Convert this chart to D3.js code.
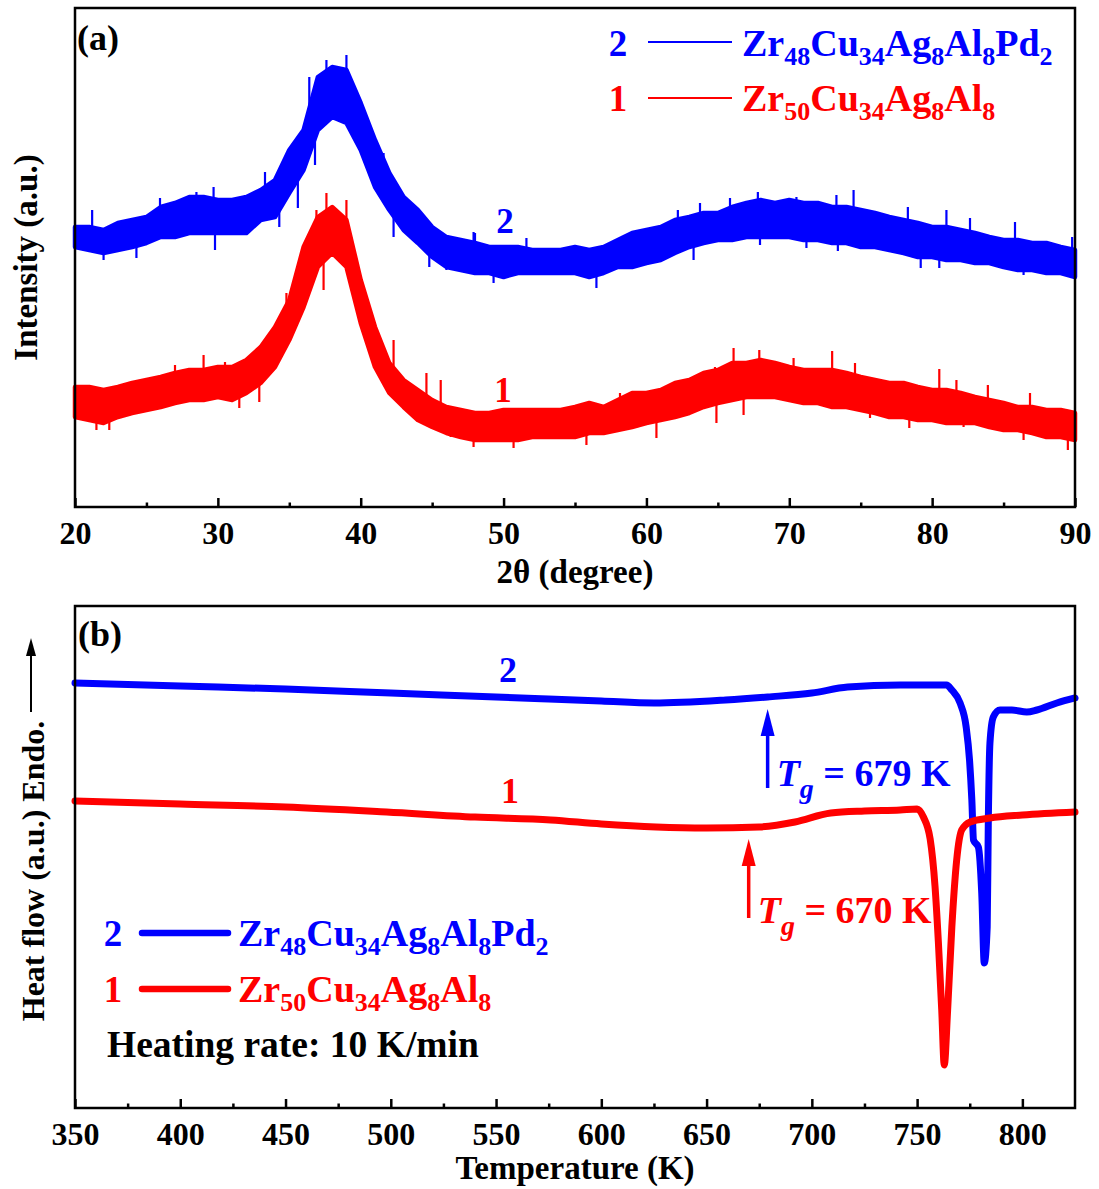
<!DOCTYPE html>
<html>
<head>
<meta charset="utf-8">
<script src="https://cdn.jsdelivr.net/npm/d3@7"></script>
<style>
  body { margin: 0; background: #fff; }
  svg { display: block; }
  text { font-family: "Liberation Serif", "Times New Roman", serif; font-weight: bold; }
</style>
</head>
<body>
<svg id="fig" width="1099" height="1189"></svg>
<script>
// ---------- (a) XRD patterns: noise band (upper / lower edge) per degree ----------
const xrdAngle = [20,21,22,23,24,25,26,27,28,29,30,31,32,33,34,35,36,37,38,39,40,41,42,43,44,45,46,47,48,49,50,51,52,53,54,55,56,57,58,59,60,61,62,63,64,65,66,67,68,69,70,71,72,73,74,75,76,77,78,79,80,81,82,83,84,85,86,87,88,89,90];

const xrd2Hi = [56.0,56.0,55.4,56.8,57.4,58.0,60.0,60.8,62.0,62.0,61.4,61.4,62.0,63.4,65.4,71.4,75.4,86.0,88.0,87.4,80.8,73.4,66.8,62.0,59.4,56.0,54.0,53.4,52.8,52.0,52.0,52.0,51.4,51.4,51.4,52.0,51.4,52.0,53.4,54.8,55.4,56.0,57.4,58.0,58.8,58.8,60.0,60.8,61.4,60.8,61.4,60.8,60.8,60.0,60.0,59.4,58.8,58.0,57.4,56.8,56.0,56.0,55.4,54.8,54.0,53.4,53.4,52.8,52.8,52.0,51.4];
const xrd2Lo = [52.0,51.4,50.8,51.4,52.0,52.8,54.0,54.0,54.8,54.8,54.8,54.8,54.8,57.4,58.0,62.8,67.4,75.4,78.0,76.8,71.4,64.0,59.4,55.4,52.8,50.0,48.0,47.4,46.8,46.8,46.0,46.8,46.8,46.8,46.8,46.8,46.0,46.8,48.0,48.0,48.8,49.4,50.8,52.0,52.8,53.4,53.4,54.0,54.0,54.0,54.0,53.4,53.4,52.8,52.8,52.0,52.0,51.4,50.8,50.0,50.0,49.4,49.4,48.8,48.8,48.0,47.4,47.4,46.8,46.8,46.0];

const xrd1Hi = [24.0,24.0,23.4,24.0,24.8,25.4,26.0,26.8,27.4,27.4,28.0,28.0,29.4,32.0,36.0,41.4,52.0,58.0,60.0,57.4,45.4,36.0,28.8,25.4,23.4,21.4,20.0,19.4,18.8,18.8,19.4,19.4,19.4,19.4,19.4,20.0,20.8,20.0,21.4,22.8,22.8,23.4,24.8,25.4,26.8,27.4,28.8,28.8,29.4,28.8,28.0,27.4,27.4,27.4,26.8,26.0,25.4,24.8,24.8,24.0,23.4,23.4,22.8,22.0,21.4,20.8,20.0,20.0,19.4,19.4,18.8];
const xrd1Lo = [18.0,17.4,16.8,18.0,18.8,19.4,20.0,20.8,21.4,21.4,22.0,21.4,22.8,24.8,28.0,33.4,40.0,48.0,50.8,48.0,36.8,28.0,22.8,20.0,17.4,16.0,14.8,14.0,13.4,13.4,13.4,13.4,14.0,14.0,14.0,14.0,14.8,14.8,15.4,16.0,16.8,17.4,18.0,18.8,20.0,20.8,21.4,22.0,22.0,22.0,21.4,20.8,20.8,20.0,20.0,19.4,18.8,18.0,18.0,17.4,17.4,16.8,16.8,16.8,16.0,15.4,15.4,14.8,14.0,14.0,13.4];

// isolated counts standing out of the band: [2θ, intensity]
const xrd2Spikes = [[21.2,59.4],[22.0,49.4],[24.3,49.8],[25.95,61.8],[28.5,63.0],[29.7,64.0],[29.8,51.4],[31.9,62.4],[33.3,67.0],[34.3,56.0],[35.6,59.8],[36.4,86.0],[36.8,68.4],[37.6,89.4],[39.0,90.4],[40.9,70.8],[41.6,70.8],[42.3,54.0],[44.8,48.0],[46.0,47.4],[47.9,55.0],[48.0,54.8],[49.3,44.8],[51.6,53.8],[56.5,43.8],[62.2,59.4],[63.3,49.4],[63.75,60.8],[65.85,61.8],[67.8,63.0],[67.95,52.4],[70.5,62.0],[71.2,51.8],[73.3,62.4],[73.4,51.2],[74.5,63.4],[76.35,51.4],[78.3,60.0],[79.2,47.8],[80.5,47.8],[81.0,59.4],[82.65,57.8],[85.8,57.0],[86.4,46.4],[89.8,54.0]];
const xrd1Spikes = [[20.35,17.4],[21.5,15.4],[22.4,15.4],[27.0,28.4],[29.0,30.4],[30.5,29.0],[31.5,19.8],[32.5,30.0],[32.9,21.0],[33.9,33.4],[34.8,42.8],[36.9,59.4],[37.4,43.4],[37.6,62.8],[39.0,61.4],[41.0,29.0],[42.3,33.4],[42.75,21.0],[44.6,26.8],[45.6,25.4],[46.3,14.0],[47.9,12.0],[50.7,11.8],[55.8,12.4],[58.15,22.8],[60.7,13.8],[64.8,28.0],[64.9,16.8],[66.1,31.8],[66.8,18.4],[67.9,31.4],[70.3,29.8],[73.0,31.2],[74.6,28.8],[75.65,17.8],[77.3,18.0],[78.4,15.8],[80.5,27.6],[81.7,25.4],[82.2,16.0],[83.9,24.4],[86.4,13.4],[86.85,22.8],[89.5,11.4]];

const xrdTicks = [20,30,40,50,60,70,80,90];

// ---------- (b) DSC traces ----------
const dsc2T    = [350,400,450,500,550,575,600,625,659,679,700,717,742,758,764,766.5,770.4,773.3,774.9,776,776.8,779.1,780.7,781.9,783.3,783.8,784.6,786.2,789.4,795,802.1,806.9,816.4,825];
const dsc2Flow = [42.33,42.03,41.73,41.33,40.94,40.74,40.54,40.34,40.64,40.94,41.33,41.93,42.13,42.13,42.13,41.63,40.34,37.95,34.66,30.68,26.69,25.99,21.41,14.44,18.03,28.09,36.35,38.94,39.64,39.64,39.44,39.64,40.34,40.84];

const dsc1T    = [350,400,450,498,540,576,600,626,650,675,692,709,725,742,750,753,756.2,758.5,760.1,761.7,762.9,764.5,766.5,768.8,771.2,775.2,784.6,800,825];
const dsc1Flow = [30.58,30.28,29.98,29.48,28.98,28.69,28.29,27.99,27.89,27.99,28.49,29.38,29.58,29.68,29.78,28.98,26.79,22.11,16.53,9.76,4.28,9.76,18.03,24.70,27.69,28.49,28.88,29.18,29.48];

const dscTicks = [350,400,450,500,550,600,650,700,750,800];

// glass transition temperatures (sample 2, sample 1)
const tgSample = ["2", "1"];
const tgKelvin = [679, 670];

// ---------- drawing ----------
const BLUE = "#0000ff", RED = "#ff0000";
const svg = d3.select("#fig");

const A = { l: 75, r: 1075, t: 8, b: 507 };
const B = { l: 75, r: 1075, t: 606, b: 1108 };

const xA = d3.scaleLinear().domain([20, 90]).range([A.l, A.r]);
const yA = d3.scaleLinear().domain([0, 99.8]).range([A.b, A.t]);
const xB = d3.scaleLinear().domain([350, 825]).range([B.l, B.r]);
const yB = d3.scaleLinear().domain([0, 50]).range([B.b, B.t]);

function frame(P) {
  svg.append("rect").attr("x", P.l).attr("y", P.t)
    .attr("width", P.r - P.l).attr("height", P.b - P.t)
    .attr("fill", "none").attr("stroke", "#000").attr("stroke-width", 2.5);
}

function bottomAxis(P, x, ticks, minorStep) {
  const minor = ticks.map(t => t + minorStep).filter(m => m < x.domain()[1]);
  const g = svg.append("g").attr("transform", `translate(0,${P.b})`);
  g.call(d3.axisBottom(x).tickValues(minor).tickSize(-4.5).tickFormat(""))
    .call(s => s.select(".domain").remove())
    .selectAll("line").attr("stroke", "#000").attr("stroke-width", 2.5);
  const gm = svg.append("g").attr("transform", `translate(0,${P.b})`);
  gm.call(d3.axisBottom(x).tickValues(ticks).tickSize(-9).tickPadding(14).tickFormat(d3.format("d")))
    .call(s => s.select(".domain").remove());
  gm.selectAll("line").attr("stroke", "#000").attr("stroke-width", 2.5);
  gm.selectAll("text").attr("fill", "#000")
    .style("font-family", '"Liberation Serif","Times New Roman",serif')
    .style("font-weight", "bold").style("font-size", "32px");
}

// subscripted chemical formula
function formula(x, y, parts, color, size, subSize, shift) {
  const t = svg.append("text").attr("x", x).attr("y", y).attr("fill", color)
    .style("font-size", size + "px");
  let off = 0;
  parts.forEach(p => {
    const sub = typeof p !== "string";
    const target = sub ? shift : 0;
    t.append("tspan").attr("dy", target - off)
      .style("font-size", (sub ? subSize : size) + "px")
      .text(sub ? p.s : p);
    off = target;
  });
  return t;
}
const F2 = ["Zr", {s: "48"}, "Cu", {s: "34"}, "Ag", {s: "8"}, "Al", {s: "8"}, "Pd", {s: "2"}];
const F1 = ["Zr", {s: "50"}, "Cu", {s: "34"}, "Ag", {s: "8"}, "Al", {s: "8"}];

// ---- panel (a)
const plotA = svg.append("g");
function xrdBand(hi, lo, spikes, color) {
  const rows = xrdAngle.map((d, i) => ({ a: d, hi: hi[i], lo: lo[i] }));
  const area = d3.area().x(d => xA(d.a)).y0(d => yA(d.lo)).y1(d => yA(d.hi));
  plotA.append("path").datum(rows).attr("d", area)
    .attr("fill", color).attr("stroke", color).attr("stroke-width", 4.5).attr("stroke-linejoin", "round");
  const mid = d3.scaleLinear().domain(xrdAngle).range(xrdAngle.map((d, i) => (hi[i] + lo[i]) / 2));
  plotA.selectAll(null).data(spikes).join("line")
    .attr("x1", d => xA(d[0])).attr("x2", d => xA(d[0]))
    .attr("y1", d => yA(mid(d[0]))).attr("y2", d => yA(d[1]))
    .attr("stroke", color).attr("stroke-width", 2.2);
}
xrdBand(xrd2Hi, xrd2Lo, xrd2Spikes, BLUE);
xrdBand(xrd1Hi, xrd1Lo, xrd1Spikes, RED);

frame(A);
bottomAxis(A, xA, xrdTicks, 5);

svg.append("text").attr("x", 77).attr("y", 50).style("font-size", "36px").text("(a)");
svg.append("text").attr("x", 505).attr("y", 233).attr("text-anchor", "middle")
  .attr("fill", BLUE).style("font-size", "35px").text("2");
svg.append("text").attr("x", 503).attr("y", 402).attr("text-anchor", "middle")
  .attr("fill", RED).style("font-size", "35px").text("1");

// legend (a)
svg.append("text").attr("x", 618).attr("y", 56).attr("text-anchor", "middle")
  .attr("fill", BLUE).style("font-size", "37px").text("2");
svg.append("line").attr("x1", 648).attr("x2", 732).attr("y1", 42).attr("y2", 42)
  .attr("stroke", BLUE).attr("stroke-width", 2.2);
formula(742, 56, F2, BLUE, 38, 26, 9);
svg.append("text").attr("x", 618).attr("y", 111).attr("text-anchor", "middle")
  .attr("fill", RED).style("font-size", "37px").text("1");
svg.append("line").attr("x1", 648).attr("x2", 732).attr("y1", 98).attr("y2", 98)
  .attr("stroke", RED).attr("stroke-width", 2.2);
formula(742, 111, F1, RED, 38, 26, 9);

svg.append("text").attr("transform", `translate(37,${(A.t + A.b) / 2}) rotate(-90)`)
  .attr("text-anchor", "middle").style("font-size", "33px").text("Intensity (a.u.)");
svg.append("text").attr("x", (A.l + A.r) / 2).attr("y", 583).attr("text-anchor", "middle")
  .style("font-size", "33px").text("2θ (degree)");

// ---- panel (b)
const plotB = svg.append("g");
const dscLine = d3.line().x(d => xB(d[0])).y(d => yB(d[1])).curve(d3.curveMonotoneX);
plotB.append("path").datum(dsc2T.map((t, i) => [t, dsc2Flow[i]])).attr("d", dscLine)
  .attr("fill", "none").attr("stroke", BLUE).attr("stroke-width", 7)
  .attr("stroke-linejoin", "round").attr("stroke-linecap", "round");
plotB.append("path").datum(dsc1T.map((t, i) => [t, dsc1Flow[i]])).attr("d", dscLine)
  .attr("fill", "none").attr("stroke", RED).attr("stroke-width", 7)
  .attr("stroke-linejoin", "round").attr("stroke-linecap", "round");

frame(B);
bottomAxis(B, xB, dscTicks, 25);

svg.append("text").attr("x", 78).attr("y", 646).style("font-size", "36px").text("(b)");
svg.append("text").attr("x", 508).attr("y", 682).attr("text-anchor", "middle")
  .attr("fill", BLUE).style("font-size", "36px").text("2");
svg.append("text").attr("x", 510).attr("y", 803).attr("text-anchor", "middle")
  .attr("fill", RED).style("font-size", "36px").text("1");

// Tg markers: arrow up to the trace, label to its right
const tgLayout = [
  { color: BLUE, y0: 788, y1: 709, base: 786 },
  { color: RED,  y0: 918, y1: 839, base: 923 }
];
tgSample.forEach((s, i) => {
  const L = tgLayout[i];
  const x = xB(tgKelvin[i]);
  svg.append("line").attr("x1", x).attr("x2", x).attr("y1", L.y0).attr("y2", L.y1 + 20)
    .attr("stroke", L.color).attr("stroke-width", 3.5);
  svg.append("path")
    .attr("d", `M${x},${L.y1} L${x - 7},${L.y1 + 27} L${x + 7},${L.y1 + 27} Z`)
    .attr("fill", L.color);
  const t = svg.append("text").attr("x", x + 9).attr("y", L.base).attr("fill", L.color)
    .style("font-size", "38px");
  t.append("tspan").style("font-style", "italic").text("T");
  t.append("tspan").attr("dy", 12).style("font-style", "italic").style("font-size", "28px").text("g");
  t.append("tspan").attr("dy", -12).text(` = ${tgKelvin[i]} K`);
});

// legend (b)
svg.append("text").attr("x", 113).attr("y", 946).attr("text-anchor", "middle")
  .attr("fill", BLUE).style("font-size", "37px").text("2");
svg.append("line").attr("x1", 142).attr("x2", 228).attr("y1", 933).attr("y2", 933)
  .attr("stroke", BLUE).attr("stroke-width", 6.5).attr("stroke-linecap", "round");
formula(238, 946, F2, BLUE, 38, 26, 9);
svg.append("text").attr("x", 113).attr("y", 1002).attr("text-anchor", "middle")
  .attr("fill", RED).style("font-size", "37px").text("1");
svg.append("line").attr("x1", 142).attr("x2", 228).attr("y1", 989).attr("y2", 989)
  .attr("stroke", RED).attr("stroke-width", 6.5).attr("stroke-linecap", "round");
formula(238, 1002, F1, RED, 38, 26, 9);
svg.append("text").attr("x", 107).attr("y", 1057).style("font-size", "37.5px")
  .text("Heating rate: 10 K/min");

// y title (b) with endotherm arrow
svg.append("text").attr("transform", "translate(44,871) rotate(-90)")
  .attr("text-anchor", "middle").style("font-size", "32px").text("Heat flow (a.u.) Endo.");
svg.append("line").attr("x1", 31).attr("x2", 31).attr("y1", 712).attr("y2", 652)
  .attr("stroke", "#000").attr("stroke-width", 2);
svg.append("path").attr("d", "M31,638 L26,656 L36,656 Z").attr("fill", "#000");

svg.append("text").attr("x", (B.l + B.r) / 2).attr("y", 1179).attr("text-anchor", "middle")
  .style("font-size", "33px").text("Temperature (K)");
</script>
</body>
</html>
